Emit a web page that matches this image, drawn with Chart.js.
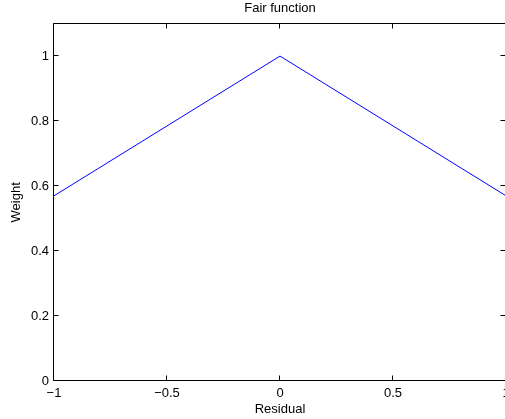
<!DOCTYPE html>
<html>
<head>
<meta charset="utf-8">
<script src="https://cdn.jsdelivr.net/npm/chart.js@4/dist/chart.umd.min.js"></script>
<style>
  html, body { margin: 0; padding: 0; background: #fff; overflow: hidden; }
  #wrap { position: relative; width: 516px; height: 419px; }
</style>
</head>
<body>
<div id="wrap"><canvas id="fairChart"></canvas></div>
<script>
// Dados
const residual = [-1, 0, 1];
const weight = [0.57, 1, 0.57];
const xTicks = [-1, -0.5, 0, 0.5, 1];
const yTicks = [0, 0.2, 0.4, 0.6, 0.8, 1];

const FONT = "'Liberation Sans', Arial, Helvetica, sans-serif";
Chart.defaults.font.family = FONT;
Chart.defaults.color = '#000';

// formato estilo MATLAB (sinal de menos comprido)
const fmt = v => String(v).replace('-', '\u2212');

// caixa + ticks para dentro, nos 4 lados
const boxPlugin = {
    id: 'matlabBox',
    afterDatasetsDraw(chart) {
        const { ctx, chartArea: a, scales } = chart;
        const L = Math.round(a.left) - 0.5, R = Math.round(a.right) - 0.5;
        const T = Math.round(a.top) - 0.5, B = Math.round(a.bottom) - 0.5;
        const len = 5;
        ctx.save();
        ctx.strokeStyle = '#000';
        ctx.lineWidth = 1;
        ctx.beginPath();
        ctx.rect(L, T, R - L, B - T);
        xTicks.forEach(v => {
            const px = Math.round(scales.x.getPixelForValue(v)) - 0.5;
            ctx.moveTo(px, B); ctx.lineTo(px, B - len);
            ctx.moveTo(px, T); ctx.lineTo(px, T + len);
        });
        yTicks.forEach(v => {
            const py = Math.round(scales.y.getPixelForValue(v)) - 0.5;
            ctx.moveTo(L, py); ctx.lineTo(L + len, py);
            ctx.moveTo(R, py); ctx.lineTo(R - len, py);
        });
        ctx.stroke();
        ctx.restore();
    }
};

new Chart(document.getElementById('fairChart'), {
    type: 'scatter',
    data: {
        datasets: [{
            data: residual.map((r, i) => ({ x: r, y: weight[i] })),
            showLine: true,
            borderColor: '#0000ff',
            borderWidth: 1,
            pointRadius: 0,
            tension: 0
        }]
    },
    options: {
        responsive: true,
        maintainAspectRatio: false,
        animation: false,
        layout: { padding: { left: 0, right: 10, top: 0, bottom: 0 } },
        plugins: {
            legend: { display: false },
            tooltip: { enabled: false },
            title: {
                display: true,
                fullSize: false, // centrado sobre a área do gráfico
                text: 'Fair function',
                color: '#000',
                font: { size: 13, weight: 'normal' },
                padding: { top: 1, bottom: 7 }
            }
        },
        scales: {
            x: {
                type: 'linear',
                min: -1, max: 1,
                afterBuildTicks: s => { s.ticks = xTicks.map(v => ({ value: v })); },
                afterFit: s => { s.height = 38; },
                border: { display: false },
                grid: { display: false, drawTicks: false },
                ticks: { font: { size: 13 }, color: '#000', padding: 5, maxRotation: 0, callback: fmt },
                title: { display: true, text: 'Residual', color: '#000', font: { size: 13 }, padding: { top: 0, bottom: 2 } }
            },
            y: {
                type: 'linear',
                min: 0, max: 1.1,
                afterBuildTicks: s => { s.ticks = yTicks.map(v => ({ value: v })); },
                afterFit: s => { s.width = 54; },
                border: { display: false },
                grid: { display: false, drawTicks: false },
                ticks: { font: { size: 13 }, color: '#000', padding: 5, callback: fmt },
                title: { display: true, text: 'Weight', color: '#000', font: { size: 13 }, padding: { top: 9, bottom: 0 } }
            }
        }
    },
    plugins: [boxPlugin]
});
</script>
</body>
</html>
